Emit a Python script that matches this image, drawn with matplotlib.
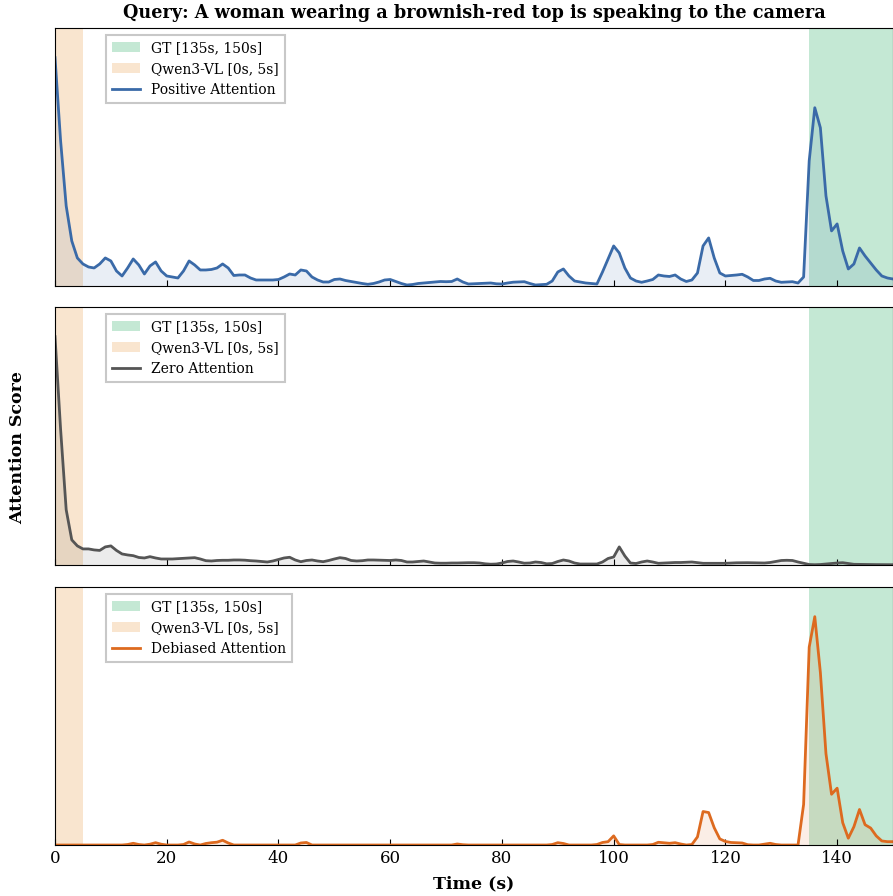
import numpy as np
import matplotlib
matplotlib.use('Agg')
import matplotlib.pyplot as plt

plt.rcParams['font.family'] = 'DejaVu Serif'

# time axis (seconds), one sample per second
time_s = np.arange(0, 151)

# attention scores (arbitrary units, x1e-3)
positive_att = [
    228, 145, 80, 45, 28, 22, 19, 18, 22, 28,
    25, 15, 10, 18, 27, 21, 12, 20, 24, 15,
    10, 9, 8, 15, 25, 21, 16, 16, 16.5, 18,
    22, 18, 10.5, 11, 11, 8, 6, 6, 6, 6,
    6.5, 9, 12, 11, 16, 15, 9, 6, 4, 4,
    6.5, 7, 5.5, 4.5, 3.5, 2.5, 1.7, 2.5, 4, 6,
    6.5, 4.5, 2.5, 1, 1.5, 2.5, 3, 3.5, 4, 4.5,
    4.3, 4.5, 7, 4, 2, 2.3, 2.5, 2.7, 3, 2.2,
    2, 3, 3.8, 4, 4.3, 2.5, 1, 1.3, 1.7, 5,
    14, 17, 10, 5, 4, 3, 2.5, 2, 14, 27,
    40, 33, 18, 8, 5, 3.7, 5, 6.5, 11, 10,
    9.5, 11, 7, 4.5, 6, 13, 40, 48, 28, 13,
    10, 10.5, 11, 11.7, 9, 5.5, 5.5, 7, 7.7, 5,
    3.7, 4, 4.3, 3, 9, 125, 178, 158, 90, 55,
    62, 35, 17, 22, 38, 30, 23, 16, 10, 8,
    7,
]

zero_att = [
    227, 135, 55, 25, 19, 16, 16, 15, 14.5, 18,
    19, 14.5, 11, 10, 9.3, 7.5, 7, 8.3, 7, 6,
    6, 6, 6.3, 6.5, 7, 7.3, 6, 4.3, 4, 4.5,
    4.7, 4.7, 5, 5, 4.8, 4.3, 4, 3.5, 3, 4,
    5.5, 7, 7.7, 5, 3.3, 4.5, 5, 4, 3.3, 4.5,
    6, 7.3, 6.5, 4.5, 4, 4.3, 5, 5, 4.8, 4.5,
    4.5, 5, 4.5, 3, 3, 3.5, 4, 3, 2, 1.8,
    1.8, 2, 2, 2.2, 2.3, 2.3, 2, 1.2, 0.8, 1,
    2, 3.5, 4, 3, 1.8, 2, 3, 2.5, 1.2, 1.5,
    3.5, 5, 4, 2, 1, 1, 1, 1, 3, 6.5,
    8, 18, 9, 2, 1.5, 3, 4, 3, 1.7, 2,
    2.2, 2.5, 2.5, 2.8, 3, 2.3, 1.7, 1.7, 1.7, 1.7,
    1.7, 2, 2.2, 2.3, 2.3, 2.2, 2, 2, 2.5, 3.5,
    4.5, 4.7, 4.5, 3, 1.7, 0.5, 0.3, 0.5, 1, 1.5,
    2, 2.3, 1.5, 0.7, 0.6, 0.5, 0.5, 0.4, 0.4, 0.3,
    0.3,
]

debiased_att = [
    0, 0, 0, 0, 0, 0, 0, 0, 0, 0,
    0, 0, 0, 0.5, 1.7, 0.5, 0, 0.8, 2.3, 0.8,
    0, 0, 0, 0.5, 3, 1, 0, 1.5, 2.3, 2.8,
    4.7, 2, 0, 0, 0, 0, 0, 0, 0, 0,
    0, 0, 0, 0, 2, 2.5, 0, 0, 0, 0,
    0, 0, 0, 0, 0, 0, 0, 0, 0, 0,
    0, 0, 0, 0, 0, 0, 0, 0, 0, 0,
    0, 0, 1, 0.3, 0, 0, 0, 0, 0, 0,
    0, 0, 0, 0, 0, 0, 0, 0, 0, 0.5,
    2.3, 1.5, 0, 0, 0, 0, 0, 0.5, 2.5, 3.3,
    9, 0.5, 0, 0, 0, 0, 0, 0.5, 2.7, 2.2,
    1.7, 2.3, 1, 0, 0.5, 8, 33, 32, 17, 6,
    3.5, 2.5, 2.3, 2, 0.3, 0, 0, 0.8, 1.7, 0.5,
    0, 0, 0, 0, 40, 195, 225, 170, 90, 50,
    56, 22, 6.7, 18, 35, 20, 16.7, 9, 4, 3.3,
    3.3,
]

gt_window = (135, 150)
pred_window = (0, 5)
query = 'Query: A woman wearing a brownish-red top is speaking to the camera'

series = [
    ('Positive Attention', positive_att, '#3a6aa8'),
    ('Zero Attention', zero_att, '#555555'),
    ('Debiased Attention', debiased_att, '#dd6a1f'),
]

fig = plt.figure(figsize=(8.93, 8.96), dpi=100)
left, width, height = 0.0616, 0.9384, 0.288
bottoms = [0.6808, 0.3694, 0.0569]

axes = []
for i, (name, vals, color) in enumerate(series):
    ax = fig.add_axes([left, bottoms[i], width, height])
    vals = np.array(vals, dtype=float)
    ax.axvspan(*gt_window, color='mediumseagreen', alpha=0.3, lw=0,
               label='GT [135s, 150s]')
    ax.axvspan(*pred_window, color='#eeac62', alpha=0.3, lw=0,
               label='Qwen3-VL [0s, 5s]')
    ax.fill_between(time_s, 0, vals, color=color, alpha=0.11, lw=0)
    ax.plot(time_s, vals, color=color, lw=2, label=name)
    ax.set_xlim(0, 150)
    ax.set_ylim(0, vals.max() * 1.13)
    ax.set_yticks([])
    ax.set_xticks(np.arange(0, 151, 20))
    ax.tick_params(axis='x', direction='in', length=4, labelsize=12)
    if i < 2:
        ax.tick_params(labelbottom=False)
    leg = ax.legend(loc='upper left', bbox_to_anchor=(0.052, 1.0), fontsize=10,
                    fancybox=False, framealpha=1, edgecolor='#c8c8c8',
                    handlelength=2.0, borderpad=0.45, labelspacing=0.5)
    leg.get_frame().set_linewidth(1.5)
    axes.append(ax)

axes[0].set_title(query, fontsize=12.7, fontweight='bold', pad=7)
axes[2].set_xlabel('Time (s)', fontsize=12.5, fontweight='bold', labelpad=6)
fig.text(0.02, 0.5, 'Attention Score', rotation=90, va='center', ha='center',
         fontsize=12.5, fontweight='bold')

fig.savefig('out.png', dpi=100)
